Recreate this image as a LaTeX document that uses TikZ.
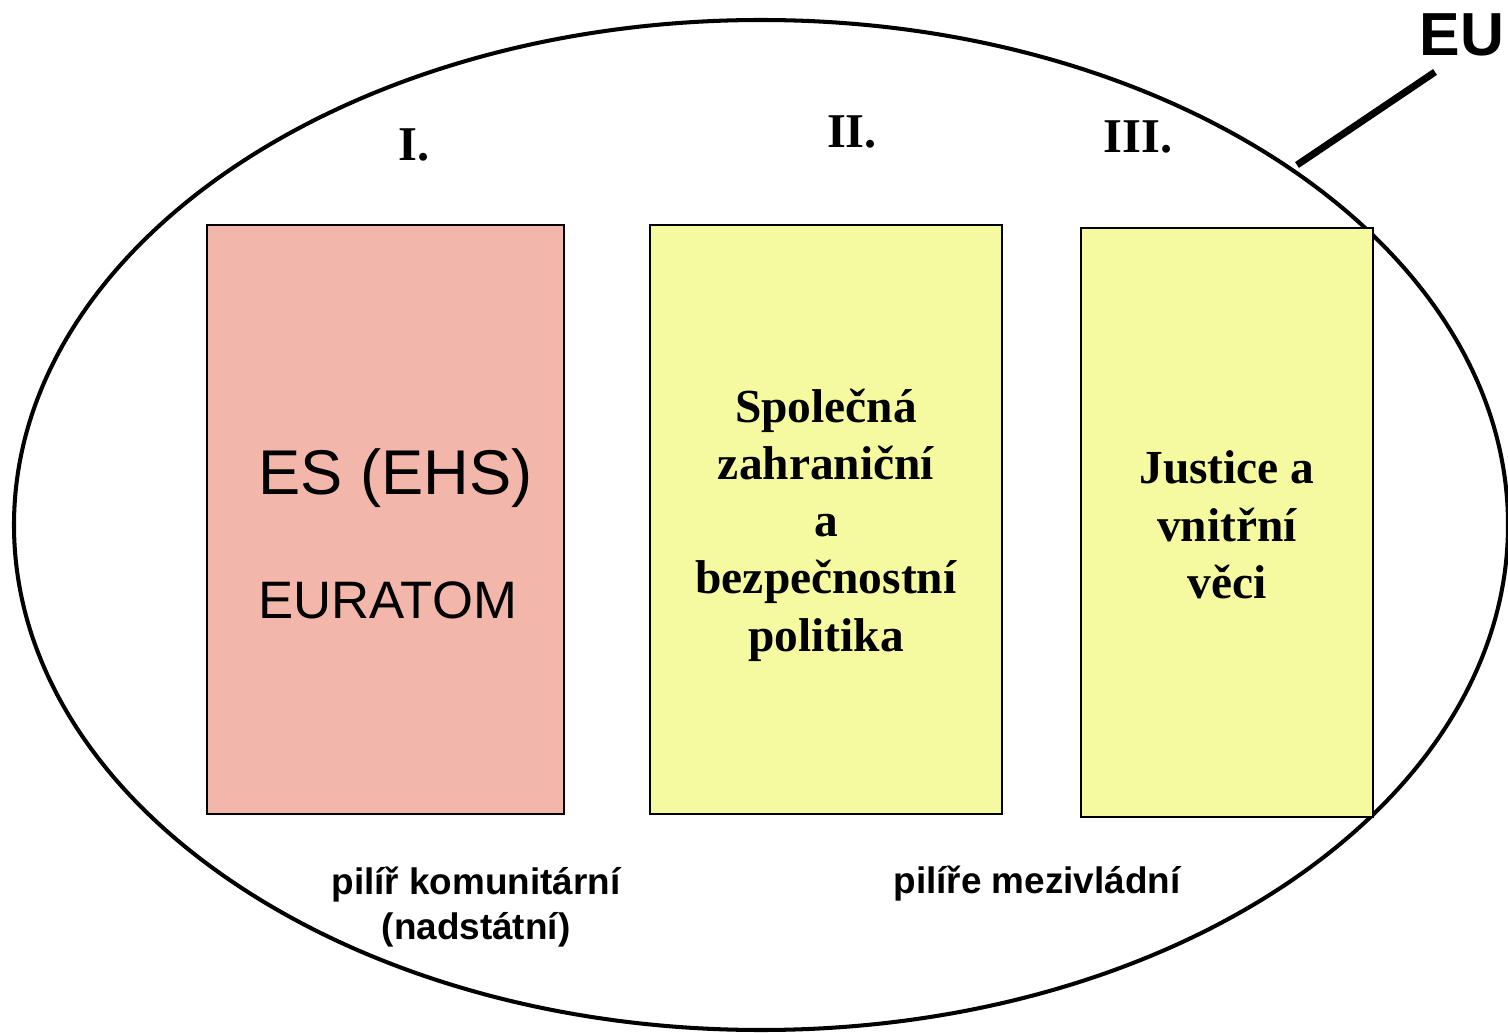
\documentclass[tikz,border=0pt]{standalone}
\usepackage{fontspec}
\setmainfont{Liberation Serif}
\setsansfont{Liberation Sans}
\usetikzlibrary{shapes.geometric}
\definecolor{pinkpillar}{RGB}{243,182,171}
\definecolor{yellowpillar}{RGB}{245,250,160}
\newcommand{\RomanFont}{\fontsize{27.6}{33}\selectfont\bfseries}
\newcommand{\PillarFont}{\fontsize{27}{32.6}\selectfont\bfseries}
\newcommand{\NoteFont}{\sffamily\bfseries\fontsize{21}{25.6}\selectfont}

\begin{document}
\begin{tikzpicture}[x=0.02cm,y=-0.02cm,
  pillar/.style={draw, line width=0.8pt, inner sep=0pt},
  numeral/.style={font=\RomanFont, inner sep=0pt},
  pillartext/.style={font=\PillarFont, align=center, inner sep=0pt},
  note/.style={font=\NoteFont, align=center, inner sep=0pt}]
  \useasboundingbox (0,0) rectangle (1508,1033);
  \draw[line width=2.3pt] (761,525) ellipse [x radius=747, y radius=505];

  \node[numeral] (one)   at (414,145)  {I.};
  \node[numeral] (two)   at (852,132)  {II.};
  \node[numeral] (three) at (1138,137) {III.};

  \node[pillar, fill=pinkpillar, minimum width=7.14cm, minimum height=11.78cm]   (es)  at (385.5,519.5) {};
  \node[pillar, fill=yellowpillar, minimum width=7.04cm, minimum height=11.78cm] (szbp) at (826,519.5) {};
  \node[pillar, fill=yellowpillar, minimum width=5.84cm, minimum height=11.78cm] (svv) at (1227,522.5) {};

  \node[font=\sffamily\fontsize{36}{40}\selectfont, anchor=base west, inner sep=0pt] (ehs) at (258,495) {ES (EHS)};
  \node[font=\sffamily\fontsize{30}{34}\selectfont, anchor=base west, inner sep=0pt] (euratom) at (258,619) {EURATOM};
  \node[pillartext] (cfsp) at (826,525) {Společná\\zahraniční\\a\\bezpečnostní\\politika};
  \node[pillartext] (jha) at (1227,525) {Justice a\\vnitřní\\věci};

  \node[note] (komun) at (476,907) {pilíř komunitární\\(nadstátní)};
  \node[note] (mezi)  at (1037,884) {pilíře mezivládní};

  \node[font=\sffamily\bfseries\fontsize{34.6}{38}\selectfont, inner sep=0pt] (eu) at (1462,35) {EU};
  \coordinate (eutip) at (1297,165);
  \coordinate (eufoot) at (1435,72);
  \draw[line width=4pt] (eutip) -- (eufoot);
\end{tikzpicture}
\end{document}
